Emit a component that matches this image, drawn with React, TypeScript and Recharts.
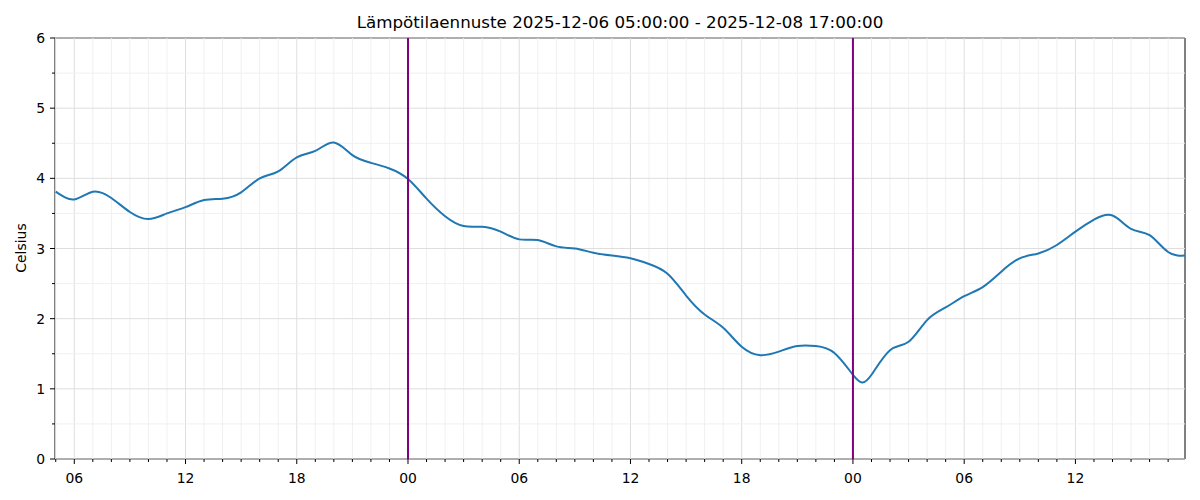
import { LineChart, Line, XAxis, YAxis, ReferenceLine, ReferenceArea } from "recharts"

// hours since 2025-12-06 05:00
const hours = [
  0, 1, 2, 3, 4, 5, 6, 7, 8, 9,
  10, 11, 12, 13, 14, 15, 16, 17, 18, 19,
  20, 21, 22, 23, 24, 25, 26, 27, 28, 29,
  30, 31, 32, 33, 34, 35, 36, 37, 38, 39,
  40, 41, 42, 43, 43.5, 44, 45, 46, 47, 48, 49,
  50, 51, 52, 53, 54, 55, 56, 57, 58, 59,
  60, 61,
]
const temps = [
  3.81, 3.7, 3.81, 3.72, 3.52, 3.42, 3.5, 3.59, 3.69, 3.71,
  3.8, 4.0, 4.1, 4.3, 4.39, 4.51, 4.33, 4.22, 4.14, 3.99,
  3.71, 3.46, 3.32, 3.31, 3.24, 3.13, 3.12, 3.03, 3.0, 2.94,
  2.9, 2.86, 2.78, 2.64, 2.33, 2.06, 1.87, 1.6, 1.48, 1.53,
  1.61, 1.61, 1.51, 1.2, 1.09, 1.2, 1.55, 1.67, 1.98, 2.16, 2.32,
  2.45, 2.67, 2.86, 2.93, 3.05, 3.24, 3.41, 3.47, 3.28, 3.19,
  2.95, 2.9,
]
const midnights = [19, 43]
const xTicks = Array.from({ length: 61 }, (_, i) => i)
const yTicks = [0, 0.5, 1, 1.5, 2, 2.5, 3, 3.5, 4, 4.5, 5, 5.5, 6]

const data = hours.map((h, i) => ({ h, t: temps[i] }))

const font = "'DejaVu Sans', sans-serif"
const X_MIN = -0.04
const X_MAX = 60.91

const hourOf = (h: number) => (5 + h) % 24
const isMajorX = (h: number) => hourOf(h) % 6 === 0

function XTick({ x, y, payload }: any) {
  const h = payload.value
  const major = isMajorX(h)
  return (
    <g>
      <line x1={x} x2={x} y1={y} y2={y + (major ? 5 : 3)} stroke="#000" strokeWidth={1} />
      {major && (
        <text x={x} y={y + 24} textAnchor="middle" fontFamily={font} fontSize={13.9} fill="#000">
          {String(hourOf(h)).padStart(2, "0")}
        </text>
      )}
    </g>
  )
}

function YTick({ x, y, payload }: any) {
  const v = payload.value
  const major = Number.isInteger(v)
  return (
    <g>
      <line x1={x} x2={x - (major ? 5 : 3)} y1={y} y2={y} stroke="#000" strokeWidth={1} />
      {major && (
        <text x={x - 10} y={y} dy="0.36em" textAnchor="end" fontFamily={font} fontSize={13.9} fill="#000">
          {v}
        </text>
      )}
    </g>
  )
}

export default function App() {
  return (
    <div style={{ position: "absolute", left: 0, top: 0, width: 1200, height: 500, background: "#fff" }}>
      <div
        style={{
          position: "absolute",
          left: 55,
          width: 1130,
          top: 12,
          textAlign: "center",
          fontFamily: font,
          fontSize: 16.7,
          lineHeight: "20px",
          color: "#000",
        }}
      >
        Lämpötilaennuste 2025-12-06 05:00:00 - 2025-12-08 17:00:00
      </div>
      <div
        style={{
          position: "absolute",
          left: 21,
          top: 248,
          transform: "translate(-50%, -50%) rotate(-90deg)",
          fontFamily: font,
          fontSize: 13.9,
          color: "#000",
          whiteSpace: "nowrap",
        }}
      >
        Celsius
      </div>
      <LineChart width={1200} height={500} data={data} margin={{ top: 38, right: 15, bottom: 0, left: 0 }}>
        <XAxis
          dataKey="h"
          type="number"
          domain={[X_MIN, X_MAX]}
          allowDataOverflow
          ticks={xTicks}
          interval={0}
          tickSize={0}
          tickMargin={0}
          tickLine={false}
          axisLine={false}
          tick={(p: any) => <XTick {...p} />}
          height={41}
        />
        <YAxis
          type="number"
          domain={[0, 6]}
          ticks={yTicks}
          interval={0}
          tickSize={0}
          tickMargin={0}
          tickLine={false}
          axisLine={false}
          tick={(p: any) => <YTick {...p} />}
          width={55}
        />
        {xTicks.map((h) => (
          <ReferenceLine key={"gx" + h} x={h} stroke={isMajorX(h) ? "#dedede" : "#f0f0f0"} strokeWidth={1} />
        ))}
        {yTicks.map((v) => (
          <ReferenceLine key={"gy" + v} y={v} stroke={Number.isInteger(v) ? "#dedede" : "#f0f0f0"} strokeWidth={1} />
        ))}
        <Line
          dataKey="t"
          type="natural"
          stroke="#1f77b4"
          strokeWidth={2}
          dot={false}
          activeDot={false}
          isAnimationActive={false}
        />
        {midnights.map((h) => (
          <ReferenceLine key={"m" + h} x={h} stroke="#800080" strokeWidth={2} />
        ))}
        <ReferenceArea x1={X_MIN} x2={X_MAX} y1={0} y2={6} fill="none" stroke="#000" strokeWidth={1} />
      </LineChart>
    </div>
  )
}
